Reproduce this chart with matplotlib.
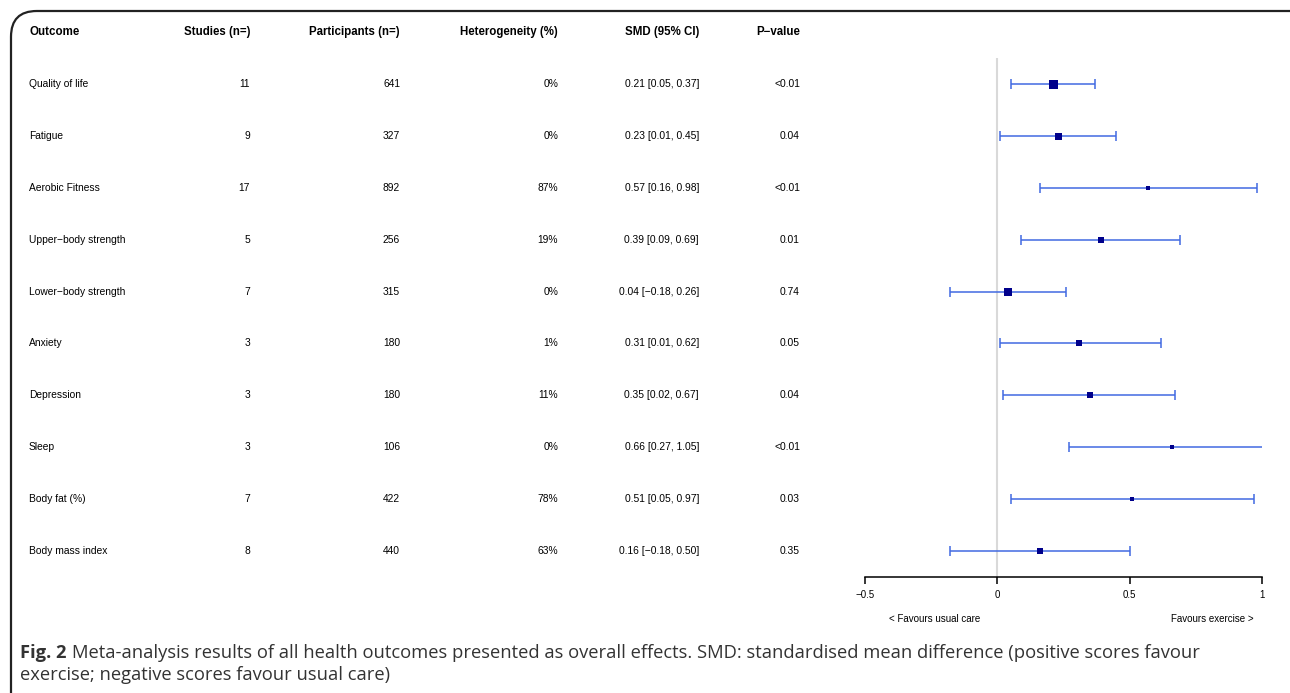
import matplotlib.pyplot as plt
from matplotlib.patches import FancyBboxPatch
import matplotlib.transforms as mtransforms

plt.rcParams['font.family'] = ['Liberation Sans', 'DejaVu Sans']

# data
outcomes = ['Quality of life', 'Fatigue', 'Aerobic Fitness', 'Upper\u2212body strength',
            'Lower\u2212body strength', 'Anxiety', 'Depression', 'Sleep',
            'Body fat (%)', 'Body mass index']
studies = [11, 9, 17, 5, 7, 3, 3, 3, 7, 8]
participants = [641, 327, 892, 256, 315, 180, 180, 106, 422, 440]
heterogeneity = ['0%', '0%', '87%', '19%', '0%', '1%', '11%', '0%', '78%', '63%']
smd = [0.21, 0.23, 0.57, 0.39, 0.04, 0.31, 0.35, 0.66, 0.51, 0.16]
lower = [0.05, 0.01, 0.16, 0.09, -0.18, 0.01, 0.02, 0.27, 0.05, -0.18]
upper = [0.37, 0.45, 0.98, 0.69, 0.26, 0.62, 0.67, 1.05, 0.97, 0.50]
pvalues = ['<0.01', '0.04', '<0.01', '0.01', '0.74', '0.05', '0.04', '<0.01', '0.03', '0.35']
box_px = [9, 7, 5, 6, 8, 6, 6, 5, 4.5, 5.5]  # marker width in pixels (study weight)

W, H = 1290, 693
fig = plt.figure(figsize=(W / 100, H / 100), dpi=100)

# rounded frame
frame = FancyBboxPatch((11 / W, -0.05), (W + 20) / W, 1.05 - 11 / H,
                       boxstyle='round,pad=0,rounding_size=0.02',
                       transform=fig.transFigure, fill=False, lw=1.6,
                       ec='#222222', mutation_aspect=W / H)
fig.patches.append(frame)

ax_left, ax_right = 865, 1262
ax_top, ax_bot = 32, 577
ax = fig.add_axes([ax_left / W, (H - ax_bot) / H, (ax_right - ax_left) / W, (ax_bot - ax_top) / H])
ax.set_xlim(-0.5, 1)
ax.set_ylim(10.5, 0)

rows = list(range(1, len(outcomes) + 1))
ax.vlines(0, 0.5, 10.5, color='#d9d9d9', lw=1.5, zorder=0)
for i, y in enumerate(rows):
    ax.errorbar([smd[i]], [y], xerr=[[smd[i] - lower[i]], [upper[i] - smd[i]]],
                fmt='none', ecolor='#4169E1', elinewidth=1.1, capsize=3.6, capthick=1.1)
    ax.plot(smd[i], y, 's', color='#00008B', ms=box_px[i] * 0.72, mew=0)

for s in ['top', 'right', 'left']:
    ax.spines[s].set_visible(False)
ax.spines['bottom'].set_linewidth(1.1)
ax.set_yticks([])
ax.set_xticks([-0.5, 0, 0.5, 1])
ax.set_xticklabels(['\u22120.5', '0', '0.5', '1'])
ax.tick_params(axis='x', labelsize=7, length=5, width=1.1, pad=4)
ax.text(-0.238, 11.3, '< Favours usual care', ha='center', va='center', fontsize=7)
ax.text(0.813, 11.3, 'Favours exercise >', ha='center', va='center', fontsize=7)

# table columns: (x pixel, alignment, header, values)
trans = mtransforms.blended_transform_factory(fig.transFigure, ax.transData)
columns = [
    (29, 'left', 'Outcome', outcomes),
    (250, 'right', 'Studies (n=)', [str(v) for v in studies]),
    (400, 'right', 'Participants (n=)', [str(v) for v in participants]),
    (558, 'right', 'Heterogeneity (%)', heterogeneity),
    (699, 'right', 'SMD (95% CI)',
     ['%.2f [%s, %.2f]' % (m, ('%.2f' % l).replace('-', '\u2212'), u) for m, l, u in zip(smd, lower, upper)]),
    (800, 'right', 'P\u2212value', pvalues),
]
for x, ha, head, vals in columns:
    ax.text(x / W, 0, head, transform=trans, ha=ha, va='center', fontsize=8.3, fontweight='bold', clip_on=False)
    for y, v in zip(rows, vals):
        ax.text(x / W, y, v, transform=trans, ha=ha, va='center', fontsize=7.4, clip_on=False)

# caption
cap_font = ['Open Sans', 'DejaVu Sans']
cap_col = '#333333'
t = fig.text(20 / W, 1 - 653 / H, 'Fig. 2', fontsize=13.2, fontweight='bold', family=cap_font,
             color=cap_col, va='center')
fig.canvas.draw()
bb = t.get_window_extent()
fig.text((bb.x1 + 5) / W, 1 - 653 / H,
         'Meta-analysis results of all health outcomes presented as overall effects. SMD: standardised mean difference (positive scores favour',
         fontsize=13.2, family=cap_font, color=cap_col, va='center')
fig.text(20 / W, 1 - 675 / H, 'exercise; negative scores favour usual care)',
         fontsize=13.2, family=cap_font, color=cap_col, va='center')

fig.savefig('out.png', dpi=100)
